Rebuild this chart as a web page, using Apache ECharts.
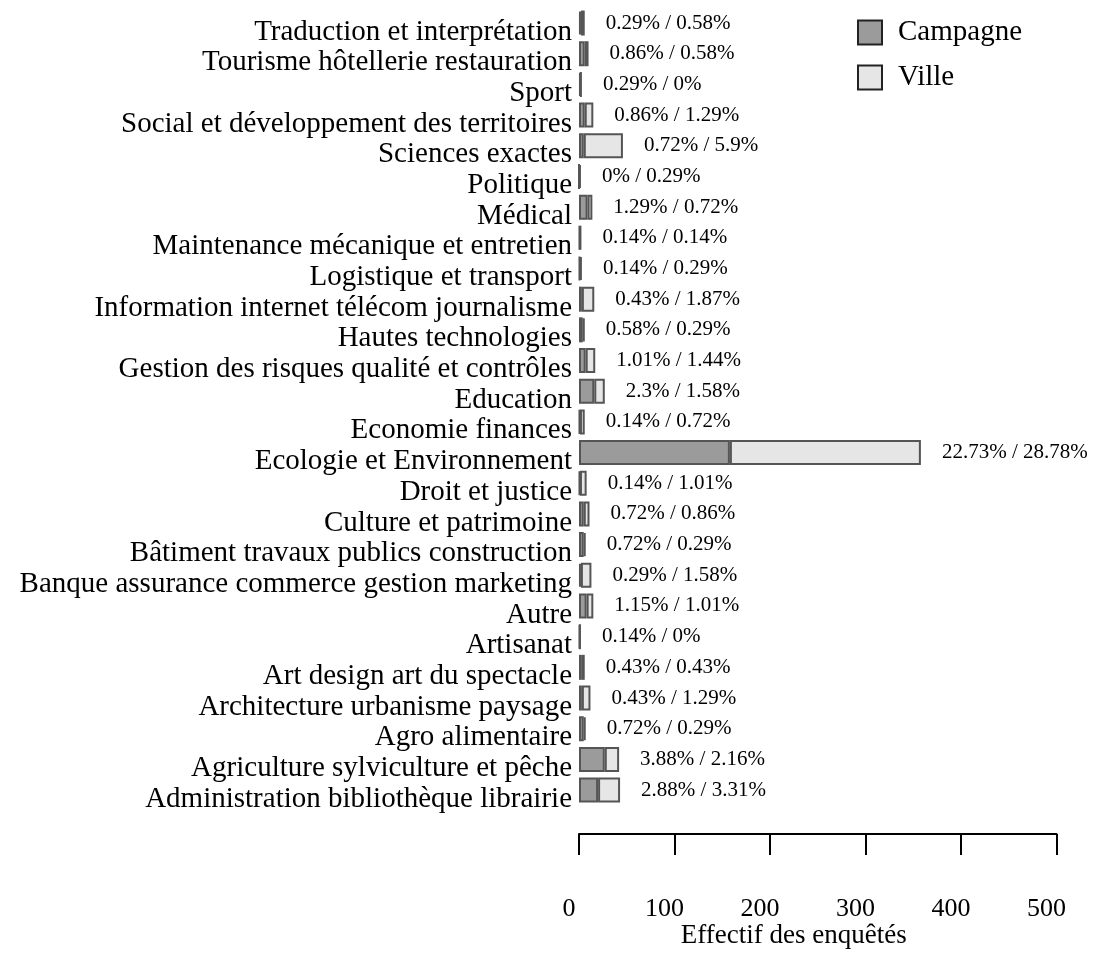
<!DOCTYPE html>
<html>
<head>
<meta charset="utf-8">
<script src="https://cdn.jsdelivr.net/npm/echarts@6/dist/echarts.min.js"></script>
<style>
  html, body { margin: 0; padding: 0; background: #ffffff; }
  #chart { width: 1110px; height: 958px; }
</style>
</head>
<body>
<div id="chart"></div>
<script>
// Domaines d'activité, listed from the bottom of the chart to the top
const categories = [
  'Administration bibliothèque librairie',
  'Agriculture sylviculture et pêche',
  'Agro alimentaire',
  'Architecture urbanisme paysage',
  'Art design art du spectacle',
  'Artisanat',
  'Autre',
  'Banque assurance commerce gestion marketing',
  'Bâtiment travaux publics construction',
  'Culture et patrimoine',
  'Droit et justice',
  'Ecologie et Environnement',
  'Economie finances',
  'Education',
  'Gestion des risques qualité et contrôles',
  'Hautes technologies',
  'Information internet télécom journalisme',
  'Logistique et transport',
  'Maintenance mécanique et entretien',
  'Médical',
  'Politique',
  'Sciences exactes',
  'Social et développement des territoires',
  'Sport',
  'Tourisme hôtellerie restauration',
  'Traduction et interprétation'
];

// Effectifs (number of respondents)
const campagne = [20, 27, 5, 3, 3, 1, 8, 2, 5, 5, 1, 158, 1, 16, 7, 4, 3, 1, 1, 9, 0, 5, 6, 2, 6, 2];
const ville    = [23, 15, 2, 9, 3, 0, 7, 11, 2, 6, 7, 200, 5, 11, 10, 2, 13, 2, 1, 5, 2, 41, 9, 0, 4, 4];

// Shares of all respondents, as printed next to each bar
const campagnePct = ['2.88', '3.88', '0.72', '0.43', '0.43', '0.14', '1.15', '0.29', '0.72', '0.72', '0.14', '22.73', '0.14', '2.3', '1.01', '0.58', '0.43', '0.14', '0.14', '1.29', '0', '0.72', '0.86', '0.29', '0.86', '0.29'];
const villePct    = ['3.31', '2.16', '0.29', '1.29', '0.43', '0', '1.01', '1.58', '0.29', '0.86', '1.01', '28.78', '0.72', '1.58', '1.44', '0.29', '1.87', '0.29', '0.14', '0.72', '0.29', '5.9', '1.29', '0', '0.58', '0.58'];

const xTicks = { min: 0, max: 500, interval: 100 };

const FONT = 'Liberation Serif';
const chart = echarts.init(document.getElementById('chart'), null, { renderer: 'canvas' });

chart.setOption({
  animation: false,
  backgroundColor: '#ffffff',
  textStyle: { fontFamily: FONT, color: '#000' },
  legend: {
    orient: 'vertical',
    left: 852,
    top: 13,
    itemWidth: 24,
    itemHeight: 24,
    itemGap: 16,
    icon: 'rect',
    textStyle: { fontFamily: FONT, fontSize: 29, color: '#000', padding: [0, 0, 0, 11], lineHeight: 24 },
    itemStyle: { borderColor: '#222', borderWidth: 2 },
    data: ['Campagne', 'Ville']
  },
  grid: {
    left: 579,
    top: 7.7,
    width: 477.5,
    height: 797.7,
    containLabel: false,
    outerBoundsMode: 'none'
  },
  xAxis: {
    type: 'value',
    min: xTicks.min,
    max: xTicks.max,
    interval: xTicks.interval,
    position: 'bottom',
    offset: 28.5,
    axisLine: { show: true, lineStyle: { color: '#000', width: 2 } },
    axisTick: { show: true, inside: false, length: 21, lineStyle: { color: '#000', width: 2 } },
    axisLabel: { fontFamily: FONT, fontSize: 26, color: '#000', margin: 62, padding: [0, 20, 0, 0] },
    splitLine: { show: false },
    name: 'Effectif des enquêtés',
    nameLocation: 'middle',
    nameGap: 89,
    nameMoveOverlap: false,
    nameTextStyle: { fontFamily: FONT, fontSize: 27, color: '#000', padding: [0, 48, 0, 0] }
  },
  yAxis: {
    type: 'category',
    data: categories,
    axisLine: { show: false },
    axisTick: { show: false },
    axisLabel: {
      interval: 0,
      hideOverlap: false,
      fontFamily: FONT,
      fontSize: 29,
      color: '#000',
      margin: 7,
      verticalAlign: 'top',
      lineHeight: 18
    },
    splitLine: { show: false }
  },
  series: [
    {
      name: 'Campagne',
      type: 'bar',
      stack: 'total',
      data: campagne,
      barWidth: 25,
      itemStyle: { color: '#9b9b9b', borderColor: '#555', borderWidth: 2 }
    },
    {
      name: 'Ville',
      type: 'bar',
      stack: 'total',
      data: ville,
      barWidth: 25,
      itemStyle: { color: '#e6e6e6', borderColor: '#555', borderWidth: 2 },
      label: {
        show: true,
        position: 'right',
        distance: 21,
        fontFamily: FONT,
        fontSize: 21,
        color: '#000',
        formatter: (p) => campagnePct[p.dataIndex] + '% / ' + villePct[p.dataIndex] + '%'
      }
    }
  ]
});
</script>
</body>
</html>
